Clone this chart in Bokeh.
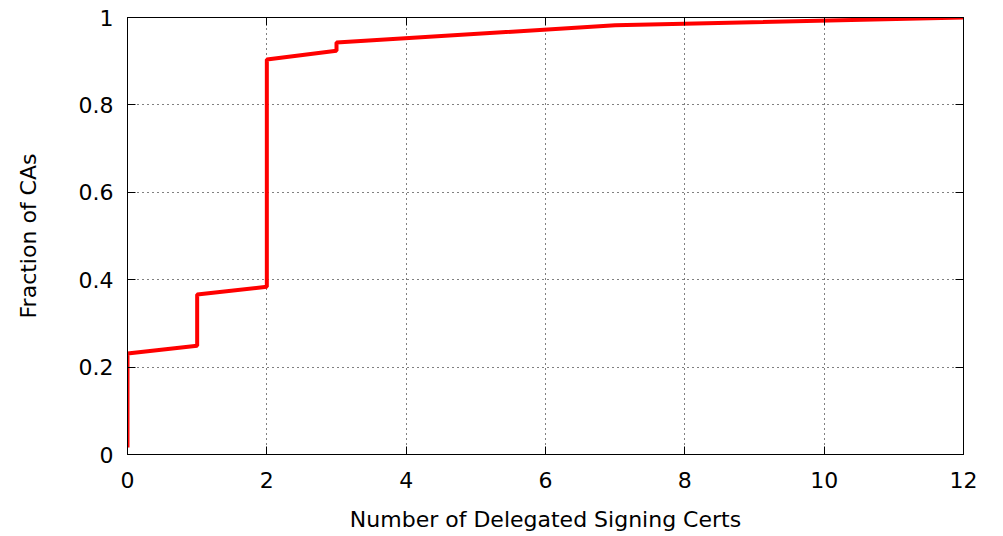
from bokeh.plotting import figure
from bokeh.models import LinearAxis, FixedTicker, Range1d
from bokeh.embed import file_html
from bokeh.resources import INLINE

# CDF points (step-like with vertical jumps)
x_vals = [0, 0, 1, 1, 2, 2, 3, 3, 7, 12]
y_vals = [0.016, 0.231, 0.249, 0.366, 0.384, 0.904, 0.924, 0.943, 0.982, 1.0]

x_ticks = [0, 2, 4, 6, 8, 10, 12]
y_ticks = [0, 0.2, 0.4, 0.6, 0.8, 1.0]
y_tick_labels = {0: "0", 0.2: "0.2", 0.4: "0.4", 0.6: "0.6", 0.8: "0.8", 1.0: "1"}

FONT = "DejaVu Sans"
FS = "22px"

p = figure(width=1003, height=536, output_backend="svg", toolbar_location=None,
           x_range=Range1d(0, 12), y_range=Range1d(0, 1),
           min_border_left=127, min_border_right=40, min_border_top=17,
           min_border_bottom=82, x_axis_label="Number of Delegated Signing Certs",
           y_axis_label="Fraction of CAs")

p.outline_line_color = "black"
p.outline_line_width = 1

p.line(x_vals, y_vals, line_color="#ff0000", line_width=4)

for ax in (p.xaxis[0], p.yaxis[0]):
    ax.axis_line_color = "black"
    ax.major_tick_in = 8
    ax.major_tick_out = 0
    ax.minor_tick_line_color = None
    ax.major_label_text_font = FONT
    ax.major_label_text_font_size = FS
    ax.major_label_text_color = "black"
    ax.axis_label_text_font = FONT
    ax.axis_label_text_font_size = FS
    ax.axis_label_text_font_style = "normal"
    ax.axis_label_text_color = "black"

p.xaxis[0].ticker = FixedTicker(ticks=x_ticks)
p.yaxis[0].ticker = FixedTicker(ticks=y_ticks)
p.yaxis[0].major_label_overrides = y_tick_labels
p.xaxis[0].major_label_standoff = 17
p.yaxis[0].major_label_standoff = 14
p.xaxis[0].axis_label_standoff = 16
p.yaxis[0].axis_label_standoff = 35

# mirrored ticks on top and right (labels hidden)
top = LinearAxis(ticker=FixedTicker(ticks=x_ticks), major_label_text_font_size="1px",
                 major_label_text_color=None,
                 major_tick_in=8, major_tick_out=0, minor_tick_line_color=None,
                 major_label_standoff=0, axis_line_color="black")
right = LinearAxis(ticker=FixedTicker(ticks=y_ticks), major_label_text_font_size="1px",
                   major_label_text_color=None,
                   major_tick_in=8, major_tick_out=0, minor_tick_line_color=None,
                   major_label_standoff=0, axis_line_color="black")
p.add_layout(top, "above")
p.add_layout(right, "right")

p.xgrid.ticker = FixedTicker(ticks=x_ticks)
p.ygrid.ticker = FixedTicker(ticks=y_ticks)
for g in (p.xgrid[0], p.ygrid[0]):
    g.grid_line_color = "black"
    g.grid_line_alpha = 1.0
    g.grid_line_dash = "1 4"
    g.grid_line_width = 1

open("out.html", "w").write(file_html(p, INLINE))
